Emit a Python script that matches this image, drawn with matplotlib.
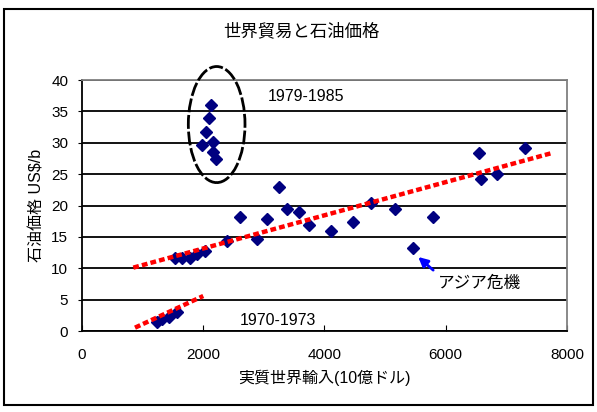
import numpy as np
import matplotlib
matplotlib.use("Agg")
import matplotlib.pyplot as plt
from matplotlib.patches import Ellipse, Rectangle

plt.rcParams['font.family'] = ['Liberation Sans', 'Noto Sans CJK JP', 'DejaVu Sans']

# 実質世界輸入 (10億ドル) と 石油価格 (US$/b)
imports = [1232, 1314, 1440, 1561,
           1540, 1650, 1780, 1890, 2030,
           2127, 2088, 2045, 1978, 2154, 2154, 2210,
           2390, 2600, 2890, 3055, 3248, 3375, 3578, 3743, 4105,
           4473, 4760, 5155, 5452, 5782, 6541, 6579, 6843, 7304]
oil = [1.5, 1.9, 2.3, 3.1,
       11.6, 11.6, 11.7, 12.3, 12.8,
       36.0, 34.0, 31.7, 29.7, 30.1, 28.6, 27.4,
       14.3, 18.2, 14.7, 17.9, 23.0, 19.5, 18.9, 16.9, 16.0,
       17.3, 20.4, 19.5, 13.2, 18.2, 28.4, 24.2, 25.0, 29.1]

# トレンドライン (端点)
trend_hi_x = [846, 7728]
trend_hi_y = [10.1, 28.3]
trend_lo_x = [874, 2000]
trend_lo_y = [0.53, 5.58]

fig = plt.figure(figsize=(5.97, 4.12), dpi=100)
ax = fig.add_axes([0.1374, 0.1966, 0.8123, 0.6092])

ax.plot(trend_hi_x, trend_hi_y, color='red', lw=3.2,
        linestyle=(0, (1.3, 0.7)), zorder=3)
ax.plot(trend_lo_x, trend_lo_y, color='red', lw=3.2,
        linestyle=(0, (1.3, 0.7)), zorder=3)
ax.plot(imports, oil, 'D', color='#000080', ms=6, zorder=2)

ell = Ellipse((2221, 32.9), 935, 18.5, fill=False, ec='black', lw=2,
              ls=(0, (5, 1)), clip_on=False, zorder=4)
ax.add_patch(ell)

ax.text(3067, 37.3, '1979-1985', fontsize=11.5, va='center')
ax.text(2605, 1.75, '1970-1973', fontsize=11.5, va='center')
ax.text(5870, 7.7, 'アジア危機', fontsize=12, va='center')
ax.annotate('', xy=(5546, 11.8), xytext=(5793, 9.7),
            arrowprops=dict(arrowstyle='-|>', color='blue', lw=2,
                            mutation_scale=14, shrinkA=0, shrinkB=0))

ax.set_xlim(0, 8000)
ax.set_ylim(0, 40)
ax.set_xticks(np.arange(0, 8001, 2000))
ax.set_yticks(np.arange(0, 41, 5))
ax.tick_params(axis='x', direction='in', length=4, pad=12, labelsize=11)
ax.tick_params(axis='y', direction='out', length=3, pad=7, labelsize=11)

ax.yaxis.grid(True, color='black', lw=1.3)
ax.set_axisbelow(True)
ax.spines['top'].set_color('#808080')
ax.spines['right'].set_color('#808080')
for sp_name in ['left', 'bottom', 'top', 'right']:
    ax.spines[sp_name].set_linewidth(1.3)

ax.set_xlabel('実質世界輸入(10億ドル)', fontsize=11.5, labelpad=6)
ax.set_ylabel('石油価格 US$/b', fontsize=11.5, labelpad=5)

fig.text(0.505, 0.925, '世界貿易と石油価格', fontsize=12.5, ha='center', va='center')

fig.patches.append(Rectangle((4 / 597, 7 / 412), 589 / 597, 396 / 412,
                             transform=fig.transFigure, fill=False,
                             ec='black', lw=1.5))

fig.savefig('out.png', dpi=100)
